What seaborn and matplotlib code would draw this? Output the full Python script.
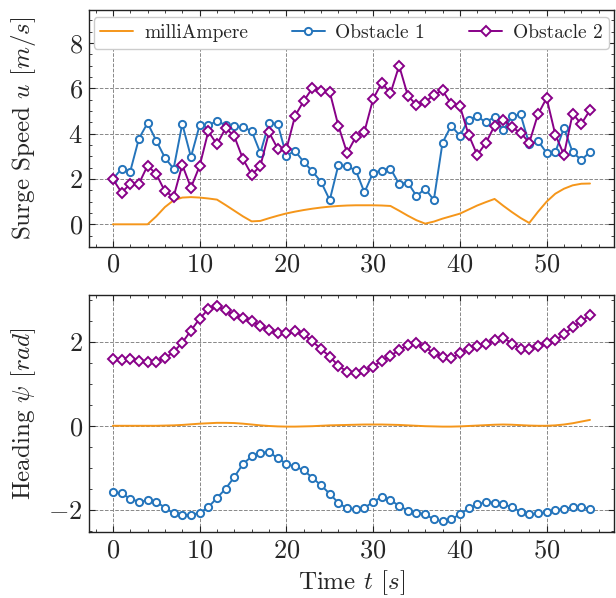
import numpy as np
import pandas as pd
from matplotlib import pyplot as plt
from matplotlib.ticker import MultipleLocator
import seaborn as sns

time_s = list(range(56))

speed_milliampere = [0.0, 0.0, 0.0, 0.0, 0.0, 0.35, 0.76, 1.06, 1.18, 1.20,
                     1.18, 1.14, 1.09, 0.85, 0.60, 0.35, 0.13, 0.15, 0.27, 0.38,
                     0.48, 0.56, 0.63, 0.69, 0.74, 0.78, 0.81, 0.83, 0.84, 0.84,
                     0.84, 0.83, 0.81, 0.60, 0.38, 0.18, 0.03, 0.12, 0.25, 0.36,
                     0.47, 0.65, 0.83, 0.98, 1.12, 0.82, 0.54, 0.28, 0.06, 0.55,
                     1.00, 1.35, 1.57, 1.72, 1.79, 1.80]
speed_obstacle1 = [2.00, 2.45, 2.33, 3.78, 4.47, 3.69, 2.94, 2.45, 4.43, 2.97,
                   4.37, 4.37, 4.56, 4.37, 4.32, 4.28, 4.12, 3.15, 4.47, 4.43,
                   3.03, 3.24, 2.75, 2.34, 1.87, 1.07, 2.62, 2.56, 2.38, 1.41,
                   2.28, 2.37, 2.46, 1.78, 1.84, 1.25, 1.57, 1.07, 3.60, 4.35,
                   3.91, 4.62, 4.76, 4.50, 4.74, 4.15, 4.76, 4.85, 3.53, 3.69,
                   3.15, 3.18, 4.25, 3.18, 2.84, 3.19]
speed_obstacle2 = [2.00, 1.40, 1.78, 1.79, 2.59, 2.22, 1.46, 1.21, 2.62, 1.62,
                   2.57, 4.10, 3.53, 4.25, 3.88, 2.88, 2.19, 2.57, 4.06, 3.34,
                   3.31, 4.78, 5.44, 6.01, 5.88, 5.84, 4.34, 3.15, 3.85, 4.09,
                   5.53, 6.25, 5.78, 7.00, 5.68, 5.26, 5.38, 5.72, 5.91, 5.31,
                   5.22, 3.96, 3.06, 3.59, 4.35, 4.62, 4.28, 4.04, 3.60, 4.85,
                   5.57, 3.96, 3.07, 4.88, 4.43, 5.04]

heading_milliampere = [0.0, 0.0, 0.0, 0.0, 0.0, 0.0, 0.005, 0.01, 0.02, 0.035,
                       0.05, 0.06, 0.07, 0.07, 0.065, 0.05, 0.03, 0.01, -0.005, -0.015,
                       -0.02, -0.02, -0.015, -0.01, 0.0, 0.01, 0.015, 0.02, 0.025, 0.03,
                       0.03, 0.03, 0.025, 0.02, 0.01, 0.0, -0.01, -0.015, -0.02, -0.02,
                       -0.015, -0.005, 0.005, 0.015, 0.025, 0.03, 0.025, 0.015, 0.005, 0.0,
                       0.0, 0.01, 0.03, 0.06, 0.10, 0.14]
heading_obstacle1 = [-1.58, -1.61, -1.74, -1.81, -1.78, -1.81, -1.95, -2.09, -2.13, -2.12,
                     -2.08, -1.94, -1.72, -1.50, -1.22, -0.91, -0.73, -0.64, -0.63, -0.77,
                     -0.91, -0.97, -1.06, -1.24, -1.42, -1.62, -1.84, -1.97, -1.99, -1.96,
                     -1.81, -1.70, -1.77, -1.91, -2.02, -2.07, -2.11, -2.23, -2.28, -2.23,
                     -2.11, -1.97, -1.87, -1.82, -1.83, -1.87, -1.94, -2.05, -2.11, -2.09,
                     -2.06, -2.01, -1.98, -1.94, -1.94, -1.98]
heading_obstacle2 = [1.58, 1.57, 1.58, 1.55, 1.53, 1.53, 1.61, 1.76, 1.98, 2.27,
                     2.55, 2.78, 2.85, 2.75, 2.63, 2.57, 2.50, 2.37, 2.28, 2.21,
                     2.22, 2.26, 2.18, 2.01, 1.83, 1.65, 1.43, 1.29, 1.25, 1.31,
                     1.41, 1.55, 1.67, 1.80, 1.92, 1.97, 1.87, 1.73, 1.65, 1.61,
                     1.73, 1.84, 1.91, 1.94, 2.04, 2.10, 1.96, 1.83, 1.84, 1.91,
                     1.97, 2.04, 2.18, 2.35, 2.50, 2.63]

series_names = ['milliAmpere', 'Obstacle 1', 'Obstacle 2']
colors = ['#f5961a', '#2474bb', '#880088']
markers = [None, 'o', 'D']

sns.set_theme(style='ticks')
plt.rcParams['font.family'] = 'serif'
plt.rcParams['font.serif'] = ['cmr10', 'DejaVu Serif']
plt.rcParams['mathtext.fontset'] = 'cm'
plt.rcParams['axes.formatter.use_mathtext'] = True
plt.rcParams['axes.unicode_minus'] = True

fig = plt.figure(figsize=(6.16, 5.98), dpi=100)
ax1 = fig.add_axes([0.1445, 0.587, 0.852, 0.396])
ax2 = fig.add_axes([0.1445, 0.110, 0.852, 0.396])

panels = [
    (ax1, [speed_milliampere, speed_obstacle1, speed_obstacle2]),
    (ax2, [heading_milliampere, heading_obstacle1, heading_obstacle2]),
]

for ax, values in panels:
    for name, vals, c, m in zip(series_names, values, colors, markers):
        df = pd.DataFrame({'t': time_s, 'v': vals})
        if m is None:
            sns.lineplot(data=df, x='t', y='v', ax=ax, color=c, lw=1.4, label=name)
        else:
            sns.lineplot(data=df, x='t', y='v', ax=ax, color=c, lw=1.4, label=name,
                         marker=m, markersize=5.2 if m == 'o' else 5.0,
                         markerfacecolor='white', markeredgecolor=c, markeredgewidth=1.4)
    ax.grid(True, which='major', ls='--', color='#888888', lw=0.7)
    ax.tick_params(which='both', direction='in', top=True, right=True, labelsize=19,
                   color='#222222')
    ax.tick_params(which='major', length=4.5, width=0.8, pad=4.5)
    ax.tick_params(which='minor', length=2.2, width=0.6)
    ax.xaxis.set_major_locator(MultipleLocator(10))
    ax.xaxis.set_minor_locator(MultipleLocator(2))
    ax.yaxis.set_major_locator(MultipleLocator(2))
    ax.yaxis.set_minor_locator(MultipleLocator(0.5))
    for sp in ax.spines.values():
        sp.set_linewidth(1.0)
        sp.set_color('#222222')
    ax.set_xlabel('')

ax1.set_ylim(-1, 9.45)
ax1.set_ylabel(r'Surge Speed $u$ $[m/s]$', fontsize=18)
ax2.set_ylabel(r'Heading $\psi$ $[rad]$', fontsize=18)
ax2.set_xlabel(r'Time $t$ $[s]$', fontsize=18)
for ax in (ax1, ax2):
    ax.yaxis.set_label_coords(-0.098, 0.5)
ax1.legend(loc='upper center', ncol=3, fontsize=14, frameon=True, fancybox=True,
           edgecolor='#cccccc', framealpha=1.0, borderaxespad=0.35, handlelength=1.7,
           handletextpad=0.55, columnspacing=2.25, borderpad=0.35)
ax2.get_legend().remove()

fig.savefig('out.png', dpi=100)
